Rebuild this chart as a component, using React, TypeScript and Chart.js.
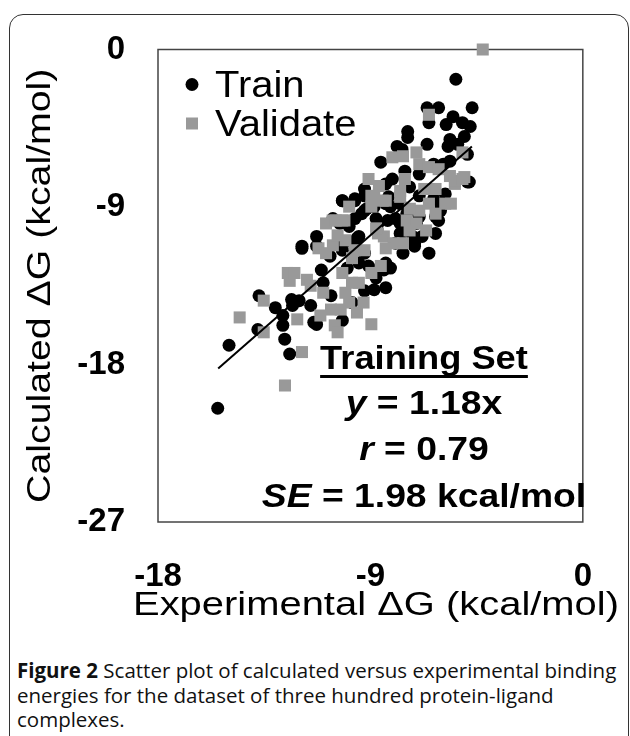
import React, { useEffect, useRef } from 'react';
import { Chart, registerables } from 'chart.js';

Chart.register(...registerables);

// ---------- data ----------
const trainX = [
  -5.38, -4.69, -6.6, -6.11, -6.52, -5.5, -5.79, -5.1, -4.77, -5.02, -5.63, -5.71, -7.42, -7.42, -6.6,
  -7.87, -7.66, -8.56, -7.54, -6.93, -5.91, -5.63, -4.81, -8.07, -9.25, -9.66, -10.19, -7.34, -6.32, -6.93,
  -8.15, -9.25, -9.66, -6.24, -6.03,
  -14.99, -13.77, -13.72, -13.03, -12.71, -12.71, -12.63, -12.42, -12.34, -12.3, -11.9, -11.28, -11.08,
  -11.53, -10.67, -11.28, -10.19, -8.84, -9.25, -10.71, -10.19, -9.49, -9.08, -8.43, -8.15, -7.62, -7.21,
  -7.74, -9.49, -9.9, -10.3, -9.37, -9.66, -8.84, -8.27, -7.74, -8.68, -7.46, -7.05, -9.25, -9.66, -7.13,
  -10.19, -9.25, -8.23, -7.74,
  -4.89, -6.11, -6.24, -6.81, -7.74, -5.83, -6.03, -6.93,
  -9.16, -8.76, -8.35, -7.94, -8.35, -8.76, -9.98, -11.0, -11.28, -11.9,
  -10.59, -10.19, -9.57, -8.35, -7.94, -7.13, -6.52, -6.32, -5.3, -4.89, -11.4, -12.02, -9.78, -8.35,
  -15.47,
];
const trainY = [
  -1.7, -3.33, -3.33, -3.33, -4.18, -3.84, -4.29, -4.18, -4.4, -4.97, -5.14, -5.54, -4.69, -5.03, -5.42,
  -5.54, -5.71, -6.44, -6.95, -7.12, -6.55, -6.38, -7.57, -7.4, -7.97, -8.53, -8.64, -7.85, -8.53, -8.36,
  -8.98, -9.21, -9.66, -9.55, -9.21,
  -16.9, -16.0, -14.07, -14.75, -15.2, -15.76, -16.55, -17.4, -14.29, -14.63, -11.36, -10.68, -12.6,
  -14.63, -14.07, -15.71, -15.48, -13.73, -13.79, -11.81, -11.47, -12.2, -12.37, -12.6, -12.49, -11.64, -10.68,
  -10.51, -10.68, -10.11, -9.94, -9.38, -8.64, -8.98, -9.77, -9.94, -9.94, -9.38, -9.94, -11.64, -11.24, -11.24,
  -8.64, -8.36, -8.42, -8.81,
  -7.57, -9.77, -10.51, -10.68, -10.9, -8.25, -8.81, -9.55,
  -9.1, -9.66, -7.68, -11.07, -12.2, -13.05, -12.49, -13.33, -11.24, -11.24,
  -9.66, -11.07, -10.79, -8.81, -9.66, -11.07, -11.64, -6.55, -5.42, -5.99, -15.59, -14.35, -14.46, -13.61,
  -20.5,
];
const validX = [
  -4.24, -6.52, -8.07, -7.62, -7.05, -6.93, -6.52, -5.1, -5.02, -5.42, -5.63, -5.59, -5.83, -9.08, -8.64,
  -7.74, -8.35, -8.96, -6.93, -6.52, -9.9, -10.6, -10.19, -7.46, -6.24,
  -14.54, -13.52, -13.52, -12.5, -12.42, -11.69, -11.53, -12.1, -11.9, -11.2, -10.88, -10.59, -10.88, -10.47,
  -10.1, -10.19, -10.06, -9.78, -9.49, -11.12, -10.67, -10.26, -9.9, -9.57, -10.51, -9.66, -9.25, -8.96, -8.56,
  -8.68, -8.43, -8.02, -7.62, -10.06, -8.96, -8.48, -7.74, -8.84,
  -5.42, -5.1, -6.64, -6.24, -7.05, -7.34,
  -10.39, -9.78, -8.35, -7.33, -6.72, -6.11, -7.54, -8.76, -11.0, -12.22, -9.29, -8.96, -10.39,
  -12.62,
];
const validY = [
  0, -3.73, -6.16, -6.1, -5.88, -6.55, -6.72, -5.88, -7.29, -7.68, -7.23, -8.81, -8.81, -7.4, -7.8,
  -8.08, -8.64, -8.36, -9.21, -8.81, -8.98, -9.77, -9.77, -9.77, -7.97,
  -15.31, -14.35, -16.16, -12.77, -13.22, -13.16, -13.5, -15.42, -17.29, -11.36, -11.64, -11.19, -9.94, -9.77,
  -9.77, -12.77, -13.9, -13.33, -13.33, -15.2, -14.86, -14.86, -14.46, -15.03, -15.76, -11.47, -11.47, -12.77, -12.37,
  -10.51, -10.68, -11.07, -11.07, -10.9, -8.98, -8.64, -8.42, -8.42,
  -7.51, -7.4, -10.34, -9.38, -9.94, -10.34,
  -10.62, -11.92, -11.36, -9.1, -7.97, -6.84, -7.4, -10.22, -13.9, -12.77, -14.46, -15.7, -16.16,
  -19.2,
];
const fitSlope = 1.18;
const fitXStart = -15.45;
const fitXEnd = -4.7;

const xTicks = [-18, -9, 0];
const yTicks = [0, -9, -18, -27];
const xTitle = 'Experimental ΔG (kcal/mol)';
const yTitle = 'Calculated ΔG (kcal/mol)';
const seriesNames = ['Train', 'Validate'];
const statTitle = 'Training Set';
const statLines = [
  [{ t: 'y', i: true }, { t: ' = 1.18x', i: false }],
  [{ t: 'r', i: true }, { t: ' = 0.79', i: false }],
  [{ t: 'SE', i: true }, { t: ' = 1.98 kcal/mol', i: false }],
];
const captionBold = 'Figure 2';
const captionLines = [
  ' Scatter plot of calculated versus experimental binding',
  'energies for the dataset of three hundred protein-ligand',
  'complexes.',
];

// ---------- styles ----------
const FONT = "'Liberation Sans', Arial, sans-serif";
const TRAIN_COLOR = '#000000';
const VALID_COLOR = '#999999';

type Seg = { t: string; i: boolean };

function drawSegs(ctx: CanvasRenderingContext2D, segs: Seg[], size: number, align: 'center' | 'left', bold = false) {
  const f = (s: Seg) => `${s.i ? 'italic ' : ''}${bold ? 'bold ' : ''}${size}px ${FONT}`;
  const widths = segs.map((s) => {
    ctx.font = f(s);
    return ctx.measureText(s.t).width;
  });
  const total = widths.reduce((a, b) => a + b, 0);
  let x = align === 'center' ? -total / 2 : 0;
  const start = x;
  ctx.textAlign = 'left';
  ctx.textBaseline = 'alphabetic';
  segs.forEach((s, k) => {
    ctx.font = f(s);
    ctx.fillText(s.t, x, 0);
    x += widths[k];
  });
  return { start, end: x };
}

const decorPlugin = {
  id: 'decor',
  beforeDatasetsDraw(chart: any) {
    const { ctx, chartArea: a } = chart;
    ctx.save();
    ctx.strokeStyle = '#444';
    ctx.lineWidth = 1.5;
    ctx.strokeRect(a.left, a.top, a.right - a.left, a.bottom - a.top);
    ctx.restore();
  },
  afterDraw(chart: any) {
    const { ctx, chartArea: a } = chart;
    ctx.save();
    ctx.fillStyle = '#000';

    // x title
    ctx.save();
    ctx.translate(376, 615);
    ctx.scale(1.21, 1);
    drawSegs(ctx, [{ t: xTitle, i: false }], 33, 'center');
    ctx.restore();

    // y title
    ctx.save();
    ctx.translate(38, (a.top + a.bottom) / 2);
    ctx.rotate(-Math.PI / 2);
    ctx.translate(0, 12);
    ctx.scale(1.19, 1);
    drawSegs(ctx, [{ t: yTitle, i: false }], 33, 'center');
    ctx.restore();

    // legend
    const lx = a.left + 34;
    ctx.beginPath();
    ctx.fillStyle = TRAIN_COLOR;
    ctx.arc(lx, a.top + 35, 6.5, 0, Math.PI * 2);
    ctx.fill();
    ctx.fillStyle = VALID_COLOR;
    ctx.fillRect(lx - 6, a.top + 74 - 6, 12, 12);
    ctx.fillStyle = '#000';
    ctx.save();
    ctx.translate(a.left + 57, a.top + 47);
    ctx.scale(1.11, 1);
    drawSegs(ctx, [{ t: seriesNames[0], i: false }], 36, 'left');
    ctx.restore();
    ctx.save();
    ctx.translate(a.left + 57, a.top + 86);
    ctx.scale(1.11, 1);
    drawSegs(ctx, [{ t: seriesNames[1], i: false }], 36, 'left');
    ctx.restore();

    // stats block
    const cx = 424;
    ctx.save();
    ctx.translate(cx, 369);
    ctx.scale(1.1, 1);
    const r = drawSegs(ctx, [{ t: statTitle, i: false }], 33, 'center', true);
    ctx.fillRect(r.start, 6, r.end - r.start, 3);
    ctx.restore();
    const baselines = [414, 460, 507];
    statLines.forEach((segs, k) => {
      ctx.save();
      ctx.translate(cx, baselines[k]);
      ctx.scale(1.13, 1);
      drawSegs(ctx, segs as Seg[], 33, 'center', true);
      ctx.restore();
    });
    ctx.restore();
  },
};

export default function App() {
  const ref = useRef<HTMLCanvasElement | null>(null);
  useEffect(() => {
    if (!ref.current) return;
    const chart = new Chart(ref.current, {
      type: 'scatter',
      data: {
        datasets: [
          {
            type: 'line',
            data: [
              { x: fitXStart, y: fitSlope * fitXStart },
              { x: fitXEnd, y: fitSlope * fitXEnd },
            ],
            borderColor: '#000',
            borderWidth: 2,
            pointRadius: 0,
            fill: false,
            order: 0,
          } as any,
          {
            label: seriesNames[1],
            data: validX.map((x, i) => ({ x, y: validY[i] })),
            pointStyle: 'rect',
            pointRadius: 8.5,
            backgroundColor: VALID_COLOR,
            borderWidth: 0,
            clip: false,
            order: 1,
          } as any,
          {
            label: seriesNames[0],
            data: trainX.map((x, i) => ({ x, y: trainY[i] })),
            pointStyle: 'circle',
            pointRadius: 6.5,
            backgroundColor: TRAIN_COLOR,
            borderWidth: 0,
            clip: false,
            order: 2,
          } as any,
        ],
      },
      options: {
        responsive: false,
        animation: false,
        events: [],
        layout: { padding: { top: 44, right: 30, left: 0, bottom: 0 } },
        plugins: { legend: { display: false }, tooltip: { enabled: false } },
        scales: {
          x: {
            type: 'linear',
            min: xTicks[0],
            max: xTicks[xTicks.length - 1],
            afterFit: (s: any) => { s.height = 128; },
            afterBuildTicks: (s: any) => { s.ticks = xTicks.map((v) => ({ value: v })); },
            grid: { display: false, drawTicks: false },
            border: { display: false },
            ticks: {
              color: '#000',
              padding: 38,
              maxRotation: 0,
              font: { family: FONT, size: 33, weight: 'bold', lineHeight: 1 },
              callback: (v: any) => String(v),
            },
          },
          y: {
            type: 'linear',
            min: yTicks[yTicks.length - 1],
            max: yTicks[0],
            afterFit: (s: any) => { s.width = 158; },
            afterBuildTicks: (s: any) => { s.ticks = yTicks.map((v) => ({ value: v })); },
            grid: { display: false, drawTicks: false },
            border: { display: false },
            ticks: {
              color: '#000',
              padding: 33,
              font: { family: FONT, size: 33, weight: 'bold', lineHeight: 1 },
              callback: (v: any) => String(v),
            },
          },
        },
      },
      plugins: [decorPlugin],
    } as any);
    return () => chart.destroy();
  }, []);

  return (
    <div style={{ position: 'fixed', left: 0, top: 0, width: 630, height: 736, overflow: 'hidden', background: '#fff' }}>
      <div
        style={{
          position: 'absolute', left: 9, top: 14, width: 620, height: 800, boxSizing: 'border-box',
          border: '1.5px solid #333', borderRadius: 14,
        }}
      />
      <canvas ref={ref} width={630} height={650} style={{ position: 'absolute', left: 0, top: 0, width: 630, height: 650 }} />
      <div
        style={{
          position: 'absolute', left: 17, top: 658, fontFamily: "'Open Sans', sans-serif", fontSize: 20.5,
          lineHeight: '24.5px', color: '#111', whiteSpace: 'nowrap',
        }}
      >
        <b>{captionBold}</b>{captionLines[0]}<br />{captionLines[1]}<br />{captionLines[2]}
      </div>
    </div>
  );
}
